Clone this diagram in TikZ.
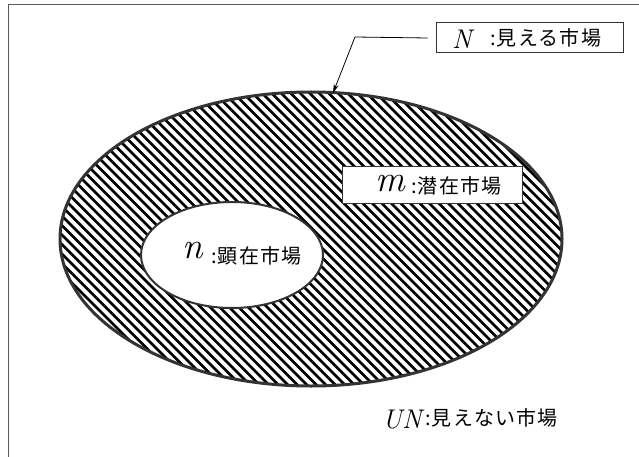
\documentclass[tikz,border=0pt]{standalone}
\usepackage{fontspec}
\newfontfamily\jp{Noto Sans CJK JP}
\usetikzlibrary{arrows.meta,shapes.geometric}
\tikzset{
  frameline/.style={draw=black!65, line width=1.4pt},
  bigell/.style={ellipse, draw=black!80, line width=3pt, inner sep=0pt, minimum width=502pt, minimum height=294pt},
  smallell/.style={ellipse, draw=black!80, fill=white, line width=2pt, inner sep=0pt, minimum width=182pt, minimum height=106pt},
  hatchline/.style={line width=2.7pt, black},
  labelbox/.style={draw=black!80, fill=white, line width=1pt, inner sep=0pt},
  jptext/.style={inner sep=0pt, font=\jp\fontsize{20}{20}\selectfont\addfontfeature{LetterSpace=6}},
  mathbig/.style={inner sep=0pt, font=\fontsize{37}{37}\selectfont\itshape},
  mathmid/.style={inner sep=0pt, font=\fontsize{27}{27}\selectfont\itshape},
  pointer/.style={draw=black, line width=0.8pt, -{Stealth[length=9pt,width=5pt]}}
}
\begin{document}
\begin{tikzpicture}[x=1pt,y=-1pt]
\useasboundingbox[fill=white] (0,0) rectangle (639,457);
\draw[frameline] (8.5,700) -- (8.5,4.5) -- (700,4.5);
% hatching of the visible market
\begin{scope}
  \clip (311,239) ellipse [x radius=251, y radius=147];
  \foreach \c in {-420,-410.5,...,600} \draw[hatchline] (\c,0) -- ++(520,520);
\end{scope}
\node[bigell] (big) at (311,239) {};
\node[smallell] (small) at (232,255) {};
% n label
\node[mathbig, anchor=center] (nl) at (193,251) {n};
\node[jptext, anchor=west] (nj) at (211,256) {:顕在市場};
% m box
\node[labelbox, minimum width=180pt, minimum height=36pt] (mbox) at (432,185) {};
\node[mathbig, anchor=center] (ml) at (390,184) {m};
\node[jptext, anchor=west] (mj) at (411,186) {:潜在市場};
% N box
\node[labelbox, minimum width=187pt, minimum height=30pt] (Nbox) at (529.5,38) {};
\node[mathmid, anchor=center] (Nl) at (462,39) {N};
\node[jptext, anchor=west] (Nj) at (490,38) {:見える市場};
% UN label
\node[mathmid, anchor=center] (UNl) at (402,420) {UN};
\node[jptext, anchor=west] (UNj) at (425,418) {:見えない市場};
% pointer
\coordinate (bend) at (355,37);
\coordinate (tip) at (333,93);
\draw[pointer] ([xshift=-8pt]Nbox.west) -- (bend) -- (tip);
\end{tikzpicture}
\end{document}
